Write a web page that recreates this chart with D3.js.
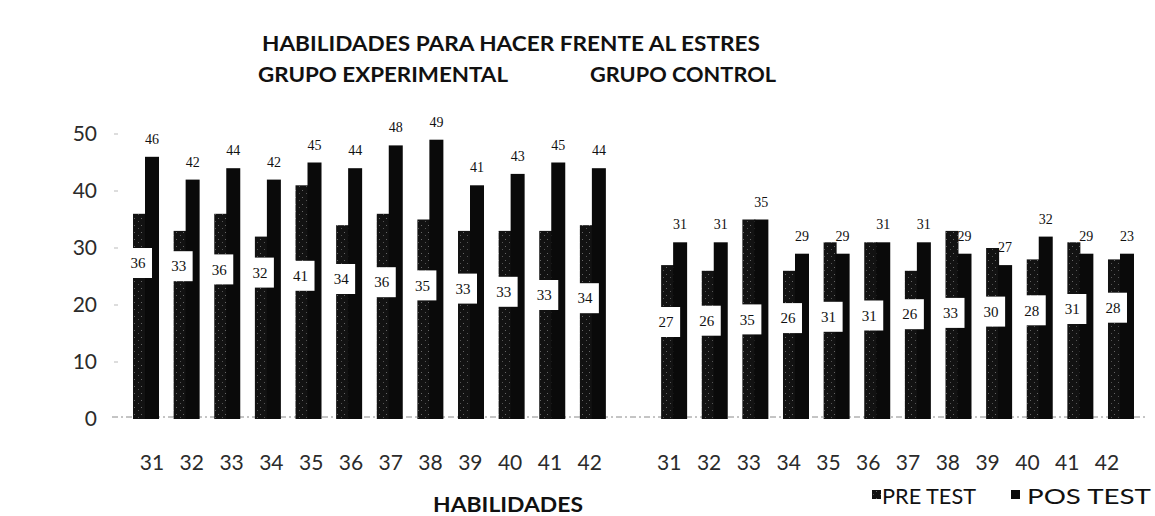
<!DOCTYPE html>
<html>
<head>
<meta charset="utf-8">
<script src="https://cdn.jsdelivr.net/npm/d3@7"></script>
<style>
  body { margin: 0; background: #fff; }
  svg { display: block; }
  .tick text { fill: #2b2b2b; }
</style>
</head>
<body>
<div id="chart"></div>
<script>
// categories (habilidades) and the two groups
var categories = ["31", "32", "33", "34", "35", "36", "37", "38", "39", "40", "41", "42"];
var groups = ["EXP", "CTRL"];

// series values
var preExp  = [36, 33, 36, 32, 41, 34, 36, 35, 33, 33, 33, 34];
var posExp  = [46, 42, 44, 42, 45, 44, 48, 49, 41, 43, 45, 44];
var preCtrl = [27, 26, 35, 26, 31, 31, 26, 33, 30, 28, 31, 28];
var posCtrl = [31, 31, 35, 29, 29, 31, 31, 29, 27, 32, 29, 29];
// printed labels of the control pos-test bars (last one is printed "23")
var posCtrlText = ["31", "31", "35", "29", "29", "31", "31", "29", "27", "32", "29", "23"];

var yTicks = [0, 10, 20, 30, 40, 50];

function draw() {
    var w = 1155;
    var h = 516;

    var svg = d3.select("#chart")
                .append("svg")
                .attr("width", w)
                .attr("height", h);

    // dithered look for the pre test bars
    var defs = svg.append("defs");
    var pat = defs.append("pattern")
                  .attr("id", "dither")
                  .attr("width", 7)
                  .attr("height", 7)
                  .attr("patternUnits", "userSpaceOnUse");
    pat.append("rect").attr("width", 7).attr("height", 7).attr("fill", "#121212");
    pat.append("rect").attr("x", 1).attr("y", 1).attr("width", 1).attr("height", 1).attr("fill", "#666");
    pat.append("rect").attr("x", 5).attr("y", 4).attr("width", 1).attr("height", 1).attr("fill", "#555");

    // build rows: experimental, gap slot, control
    var rows = [];
    categories.forEach(function(c, i) {
        rows.push({key: "E" + c, cat: c, group: 0, idx: i, pre: preExp[i], pos: posExp[i], posText: String(posExp[i])});
    });
    var slots = rows.map(function(d) { return d.key; });
    slots.push("gap");
    categories.forEach(function(c, i) {
        rows.push({key: "C" + c, cat: c, group: 1, idx: i, pre: preCtrl[i], pos: posCtrl[i], posText: posCtrlText[i]});
        slots.push("C" + c);
    });

    // scales
    var x = d3.scaleBand().domain(slots).range([125.7, 1141.3]).padding(0);
    var xLab = d3.scaleBand().domain(slots).range([132.1, 1126.9]).padding(0);
    var y = d3.scaleLinear().domain([0, 50]).range([419, 134]);

    // y axis
    var yAxis = svg.append("g")
                   .attr("transform", "translate(97,0)")
                   .call(d3.axisLeft(y).tickValues(yTicks).tickSize(0).tickPadding(0));
    yAxis.select(".domain").remove();
    yAxis.selectAll("text")
         .style("font-family", "Lato, 'Open Sans', sans-serif")
         .style("font-size", "21px");

    // small gridline stubs near axis
    svg.append("g").selectAll("line")
       .data(yTicks.filter(function(t) { return t > 0; }))
       .enter()
       .append("line")
       .attr("x1", 114).attr("x2", 118)
       .attr("y1", function(d) { return y(d); })
       .attr("y2", function(d) { return y(d); })
       .attr("stroke", "#bbb");

    // floor line
    svg.append("line")
       .attr("x1", 112).attr("x2", 1148)
       .attr("y1", y(0) - 2).attr("y2", y(0) - 2)
       .attr("stroke", "#8a8a8a")
       .attr("stroke-width", 1)
       .attr("stroke-dasharray", "6,3,2,3");

    // x axis labels
    var xAxis = svg.append("g")
                   .attr("transform", "translate(0,455)")
                   .call(d3.axisBottom(xLab)
                           .tickValues(slots.filter(function(s) { return s !== "gap"; }))
                           .tickFormat(function(s) { return s.slice(1); })
                           .tickSize(0).tickPadding(0));
    xAxis.select(".domain").remove();
    xAxis.selectAll("text")
         .style("font-family", "Lato, 'Open Sans', sans-serif")
         .style("font-size", "21px");

    var cx = function(d) { return x(d.key) + x.bandwidth() / 2; };

    var bars = svg.append("g");
    // pre test bars (left, dithered)
    bars.selectAll("rect.pre")
        .data(rows)
        .enter()
        .append("rect")
        .attr("class", "pre")
        .attr("x", function(d) { return cx(d) - 13; })
        .attr("width", 13)
        .attr("y", function(d) { return y(d.pre); })
        .attr("height", function(d) { return y(0) - y(d.pre); })
        .attr("fill", "url(#dither)");

    // pos test bars (right, solid)
    bars.selectAll("rect.pos")
        .data(rows)
        .enter()
        .append("rect")
        .attr("class", "pos")
        .attr("x", function(d) { return cx(d) - 1; })
        .attr("width", 14)
        .attr("y", function(d) { return y(d.pos); })
        .attr("height", function(d) { return y(0) - y(d.pos); })
        .attr("fill", "#0a0a0a");

    // pre labels in white boxes
    var boxY = function(d) { return d.group === 0 ? 263 + 3.2 * d.idx : 322 - 1.3 * d.idx; };
    var lab = svg.append("g").selectAll("g")
                 .data(rows)
                 .enter()
                 .append("g")
                 .attr("transform", function(d) { return "translate(" + (cx(d) - 8) + "," + boxY(d) + ")"; });
    lab.append("rect")
       .attr("x", -14).attr("y", -15)
       .attr("width", 28).attr("height", 30)
       .attr("fill", "#fff");
    lab.append("text")
       .attr("text-anchor", "middle")
       .attr("dy", "0.35em")
       .style("font-family", "'Liberation Serif', serif")
       .style("font-size", "15px")
       .attr("fill", "#111")
       .text(function(d) { return d.pre; });

    // pos labels above bars
    svg.append("g").selectAll("text")
       .data(rows)
       .enter()
       .append("text")
       .attr("x", function(d) { return cx(d) + 6; })
       .attr("y", function(d) { return y(d.pos) - 13; })
       .attr("text-anchor", "middle")
       .style("font-family", "'Liberation Serif', serif")
       .style("font-size", "14px")
       .attr("fill", "#111")
       .text(function(d) { return d.posText; });

    // titles
    var title = svg.append("g")
                   .style("font-family", "Lato, 'Open Sans', sans-serif")
                   .style("font-weight", "bold")
                   .attr("fill", "#111");
    title.append("text")
         .attr("x", 262).attr("y", 51)
         .attr("textLength", 498).attr("lengthAdjust", "spacingAndGlyphs")
         .style("font-size", "21px")
         .text("HABILIDADES PARA HACER FRENTE AL ESTRES");
    title.append("text")
         .attr("x", 258).attr("y", 82)
         .attr("textLength", 250).attr("lengthAdjust", "spacingAndGlyphs")
         .style("font-size", "21px")
         .text("GRUPO EXPERIMENTAL");
    title.append("text")
         .attr("x", 590).attr("y", 82)
         .attr("textLength", 186).attr("lengthAdjust", "spacingAndGlyphs")
         .style("font-size", "21px")
         .text("GRUPO CONTROL");

    // x axis title
    svg.append("text")
       .attr("x", 508).attr("y", 512)
       .attr("text-anchor", "middle")
       .attr("textLength", 150).attr("lengthAdjust", "spacingAndGlyphs")
       .style("font-family", "Lato, 'Open Sans', sans-serif")
       .style("font-weight", "bold")
       .style("font-size", "20px")
       .attr("fill", "#111")
       .text("HABILIDADES");

    // legend
    var legendItems = [
        {name: "PRE TEST", fill: "url(#dither)", sx: 872, tx: 882, tl: 94},
        {name: "POS TEST", fill: "#0a0a0a", sx: 1011, tx: 1027, tl: 124}
    ];
    var leg = svg.append("g").selectAll("g")
                 .data(legendItems)
                 .enter()
                 .append("g");
    leg.append("rect")
       .attr("x", function(d) { return d.sx; })
       .attr("y", 490)
       .attr("width", 9).attr("height", 9)
       .attr("fill", function(d) { return d.fill; });
    leg.append("text")
       .attr("x", function(d) { return d.tx; })
       .attr("y", 504)
       .attr("textLength", function(d) { return d.tl; })
       .attr("lengthAdjust", "spacingAndGlyphs")
       .style("font-family", "Lato, 'Open Sans', sans-serif")
       .style("font-size", "21px")
       .attr("fill", "#111")
       .text(function(d) { return d.name; });
}

window.onload = draw;
</script>
</body>
</html>
